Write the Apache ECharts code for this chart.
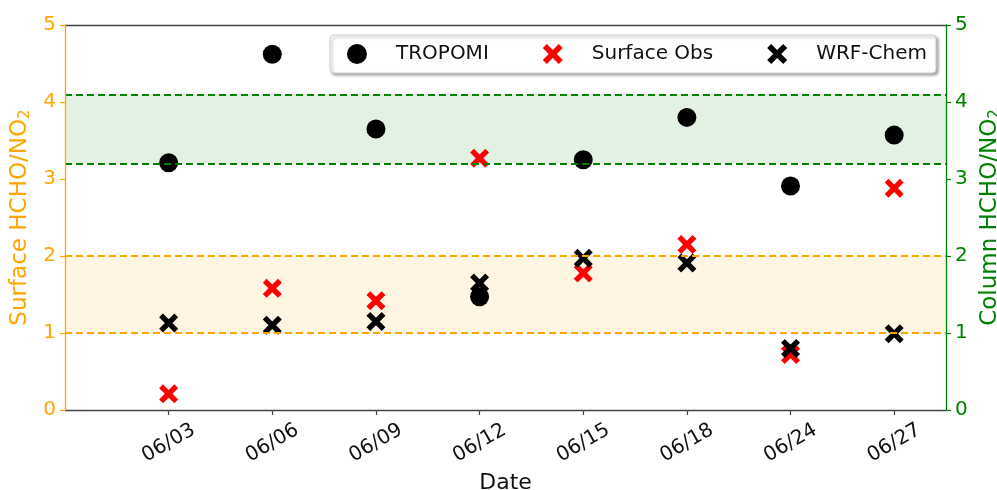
<!DOCTYPE html>
<html>
<head>
<meta charset="utf-8">
<script src="https://cdn.jsdelivr.net/npm/echarts@6/dist/echarts.min.js"></script>
<style>
  html, body { margin: 0; padding: 0; background: #fff; }
  #chart { width: 997px; height: 490px; }
</style>
</head>
<body>
<div id="chart"></div>
<script>
// Sampling dates and HCHO/NO2 ratios
const dates = ['06/03', '06/06', '06/09', '06/12', '06/15', '06/18', '06/24', '06/27'];
const tropomi = [3.21, 4.62, 3.65, 1.47, 3.25, 3.80, 2.91, 3.57];
const surfaceObs = [0.21, 1.58, 1.42, 3.27, 1.78, 2.15, 0.72, 2.88];
const wrfChem = [1.13, 1.10, 1.15, 1.65, 1.97, 1.91, 0.80, 0.99];
// Transition-regime ranges: surface (left axis) and column (right axis)
const surfaceRange = [1, 2];
const columnRange = [3.2, 4.1];
const yTicks = [0, 1, 2, 3, 4, 5];

const ORANGE = '#FFA500';
const GREEN = '#008000';
const FONT = 'DejaVu Sans';

// Filled "X" marker
const XMARK = 'path://M2,0 L5,3 L8,0 L10,2 L7,5 L10,8 L8,10 L5,7 L2,10 L0,8 L3,5 L0,2 Z';

const pts = arr => arr.map((v, i) => [i, v]);
const tickPos = dates.map((d, i) => i);

const chart = echarts.init(document.getElementById('chart'), null, { renderer: 'canvas' });

const yAxisBase = (color, pos, title) => ({
  type: 'value',
  position: pos,
  min: yTicks[0],
  max: yTicks[yTicks.length - 1],
  interval: 1,
  name: title,
  nameLocation: 'middle',
  nameGap: pos === 'left' ? 29 : 23,
  nameRotate: 90,
  nameTextStyle: {
    color: color, fontFamily: FONT, fontSize: 23,
    rich: {
      sub: { color: color, fontFamily: FONT, fontSize: 15, verticalAlign: 'bottom', padding: [10, 0, 0, 0] }
    }
  },
  axisLine: { show: true, onZero: false, lineStyle: { color: color, width: 1.3 } },
  axisTick: { show: true, inside: false, length: 5, lineStyle: { color: color, width: 1.2 } },
  axisLabel: { color: color, fontFamily: FONT, fontSize: 20, margin: 9 },
  splitLine: { show: false },
  z: 5
});

chart.setOption({
  animation: false,
  backgroundColor: '#fff',
  grid: {
    left: 65, right: 51, top: 25, bottom: 80,
    outerBoundsMode: 'none',
    containLabel: false,
    show: false
  },
  legend: {
    top: 35, right: 61,
    padding: [9, 9, 9, 17],
    itemGap: 54,
    itemWidth: 20, itemHeight: 20,
    backgroundColor: '#fff',
    borderColor: '#cfcfcf', borderWidth: 1, borderRadius: 4,
    shadowColor: 'rgba(0,0,0,0.35)', shadowBlur: 3, shadowOffsetX: 2, shadowOffsetY: 2,
    textStyle: { color: '#111', fontFamily: FONT, fontSize: 20, padding: [0, 0, 0, 24] },
    data: ['TROPOMI', 'Surface Obs', 'WRF-Chem']
  },
  xAxis: [
    {
      type: 'value',
      min: -1, max: 7.5, interval: 1,
      name: 'Date',
      nameLocation: 'middle',
      nameGap: 58,
      nameTextStyle: { color: '#111', fontFamily: FONT, fontSize: 22 },
      axisLine: { show: true, onZero: false, lineStyle: { color: '#444', width: 1.3 } },
      axisTick: { show: true, length: 5, lineStyle: { color: '#444', width: 1.2 }, customValues: tickPos },
      axisLabel: {
        color: '#111', fontFamily: FONT, fontSize: 20, rotate: 30, margin: 33,
        align: 'center', verticalAlign: 'middle',
        customValues: tickPos,
        formatter: v => dates[v] || ''
      },
      splitLine: { show: false }
    },
    {
      // top frame line
      type: 'value', position: 'top',
      min: -1, max: 7.5, interval: 1,
      axisLine: { show: true, onZero: false, lineStyle: { color: '#444', width: 1.3 } },
      axisTick: { show: false },
      axisLabel: { show: false },
      splitLine: { show: false }
    }
  ],
  yAxis: [
    yAxisBase(ORANGE, 'left', 'Surface HCHO/NO{sub|2}'),
    yAxisBase(GREEN, 'right', 'Column HCHO/NO{sub|2}')
  ],
  series: [
    {
      name: 'TROPOMI', type: 'scatter', yAxisIndex: 1,
      symbol: 'circle', symbolSize: 19,
      itemStyle: { color: '#000', opacity: 1 },
      data: pts(tropomi),
      markArea: {
        silent: true,
        data: [
          [{ yAxis: surfaceRange[0], itemStyle: { color: 'rgba(255,165,0,0.11)' } }, { yAxis: surfaceRange[1] }],
          [{ yAxis: columnRange[0], itemStyle: { color: 'rgba(0,128,0,0.11)' } }, { yAxis: columnRange[1] }]
        ]
      },
      markLine: {
        silent: true, symbol: 'none', label: { show: false },
        data: [
          { yAxis: surfaceRange[0], lineStyle: { color: ORANGE, type: [7, 4], width: 1.8 } },
          { yAxis: surfaceRange[1], lineStyle: { color: ORANGE, type: [7, 4], width: 1.8 } },
          { yAxis: columnRange[0], lineStyle: { color: GREEN, type: [7, 4], width: 1.8 } },
          { yAxis: columnRange[1], lineStyle: { color: GREEN, type: [7, 4], width: 1.8 } }
        ]
      }
    },
    {
      name: 'Surface Obs', type: 'scatter', yAxisIndex: 0,
      symbol: XMARK, symbolSize: 19,
      itemStyle: { color: '#ff0000', opacity: 1 },
      data: pts(surfaceObs)
    },
    {
      name: 'WRF-Chem', type: 'scatter', yAxisIndex: 0,
      symbol: XMARK, symbolSize: 19,
      itemStyle: { color: '#000', opacity: 1 },
      data: pts(wrfChem)
    }
  ]
});
</script>
</body>
</html>
